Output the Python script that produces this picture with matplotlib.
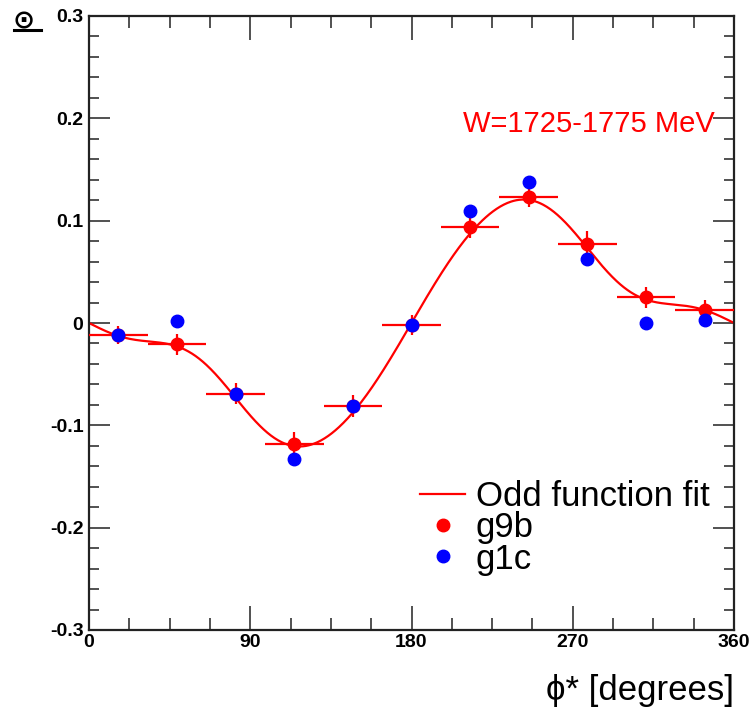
import numpy as np
import matplotlib
matplotlib.use("Agg")
import matplotlib.pyplot as plt
from matplotlib.lines import Line2D
from matplotlib.ticker import MultipleLocator

plt.rcParams['font.family'] = ['Liberation Sans', 'DejaVu Sans']

# phi* bin centres (11 bins over 0-360 degrees) and half bin width
phi = [16.4, 49.1, 81.8, 114.5, 147.3, 180.0, 212.7, 245.5, 278.2, 310.9, 343.6]
phi_half = 16.4

# g9b asymmetry and statistical errors
g9b = [-0.012, -0.021, -0.069, -0.118, -0.081, -0.002, 0.094, 0.123, 0.077, 0.025, 0.013]
g9b_err = [0.009, 0.0105, 0.0105, 0.011, 0.011, 0.010, 0.011, 0.0095, 0.013, 0.010, 0.0095]

# g1c asymmetry
g1c = [-0.012, 0.002, -0.069, -0.133, -0.081, -0.002, 0.109, 0.138, 0.063, 0.000, 0.003]

# odd-function fit: sum of a_n * sin(n*phi)
fit_coef = [-0.0909, 0.0438, -0.0029, -0.0067, -0.0024]

# axis ticks
x_ticks = [0, 90, 180, 270, 360]
y_ticks = [-0.3, -0.2, -0.1, 0.0, 0.1, 0.2, 0.3]
y_tick_labels = ['-0.3', '-0.2', '-0.1', '0', '0.1', '0.2', '0.3']

RED = '#ff0000'
BLUE = '#0000ff'

fig = plt.figure(figsize=(7.52, 7.08), dpi=100)
ax = fig.add_axes([89/752, 1 - 630/708, (734 - 89)/752, (630 - 16)/708])

# fit curve
xf = np.linspace(0, 360, 721)
yf = np.zeros_like(xf)
for n, a in enumerate(fit_coef, start=1):
    yf += a * np.sin(np.radians(n * xf))
ax.plot(xf, yf, color=RED, lw=1.6, zorder=2)

# data
ax.errorbar(phi, g9b, xerr=phi_half, yerr=g9b_err, fmt='o', color=RED,
            ms=9, elinewidth=1.6, capsize=0, zorder=3)
ax.plot(phi, g1c, 'o', color=BLUE, ms=9, zorder=4)

ax.set_xlim(0, 360)
ax.set_ylim(-0.3, 0.3)
ax.set_xticks(x_ticks, [str(v) for v in x_ticks])
ax.set_yticks(y_ticks, y_tick_labels)
ax.xaxis.set_minor_locator(MultipleLocator(22.5))
ax.yaxis.set_minor_locator(MultipleLocator(0.02))
ax.tick_params(which='both', direction='in', top=True, right=True, width=1.2,
               color='#333333')
ax.tick_params(which='major', length=17, labelsize=14, pad=3)
ax.tick_params(which='minor', length=8.5)
ax.tick_params(axis='y', which='major', length=15, pad=4)
ax.tick_params(axis='y', which='minor', length=7.5)
for lab in ax.get_xticklabels() + ax.get_yticklabels():
    lab.set_fontweight('bold')
for sp in ax.spines.values():
    sp.set_linewidth(1.6)
    sp.set_color('#222222')

# axis titles
fig.text(734/752, 1 - 700/708, 'ϕ* [degrees]', ha='right', va='baseline', fontsize=25)
fig.text(13/752, 1 - 28/708, '⊙', ha='left', va='baseline', fontsize=19,
         fontweight='bold', family=['DejaVu Sans'])
fig.add_artist(Line2D([14/752, 41/752], [1 - 30/708, 1 - 30/708], color='black', lw=2.2))

# energy bin label
ax.text(715/752, 1 - 132/708, 'W=1725-1775 MeV', transform=fig.transFigure,
        ha='right', va='baseline', color=RED, fontsize=21)

handles = [Line2D([], [], color=RED, lw=1.6),
           Line2D([], [], color=RED, marker='o', ls='none', ms=9),
           Line2D([], [], color=BLUE, marker='o', ls='none', ms=9)]
ax.legend(handles, ['Odd function fit', 'g9b', 'g1c'], loc='upper left',
          bbox_to_anchor=(420/752, 1 - 480/708), bbox_transform=fig.transFigure,
          frameon=False, fontsize=25, handlelength=1.3, handletextpad=0.3,
          labelspacing=-0.05, borderpad=0, borderaxespad=0)

fig.savefig('out.png', dpi=100)
